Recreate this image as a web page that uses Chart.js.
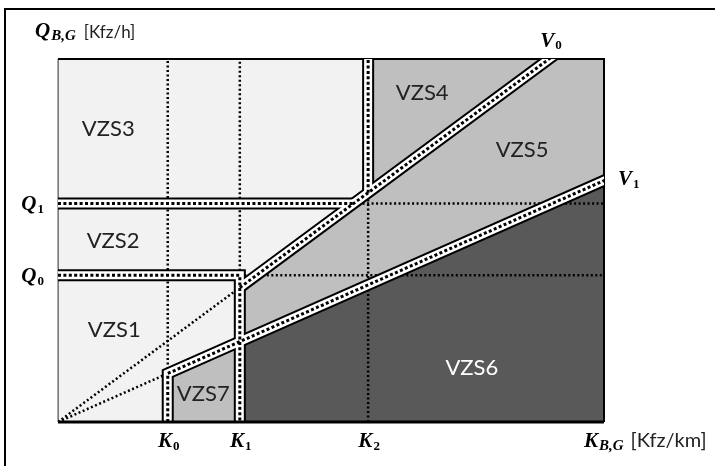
<!DOCTYPE html>
<html>
<head>
<meta charset="utf-8">
<script src="https://cdn.jsdelivr.net/npm/chart.js@4.4.1/dist/chart.umd.min.js"></script>
<style>
html,body{margin:0;padding:0;background:#fff;}
#wrap{width:715px;height:466px;position:relative;}
canvas{display:block;}
</style>
</head>
<body>
<div id="wrap"><canvas id="c" width="715" height="466"></canvas></div>
<script>
// ---- data ----
const densityRange = [0, 100];              // K_B,G axis range
const flowRange = [0, 100];                 // Q_B,G axis range
const densityThresholds = [20.1, 33.3, 56.8];   // K0, K1, K2
const densityTickLabels = ['0', '1', '2'];
const flowThresholds = [40.4, 60.2];            // Q0, Q1
const flowTickLabels = ['0', '1'];
const speedThresholds = [1.112, 0.665];         // V0, V1 (Q/K slopes)
const speedTickLabels = ['0', '1'];
const zoneNames = ['VZS1', 'VZS2', 'VZS3', 'VZS4', 'VZS5', 'VZS6', 'VZS7'];

// ---- label anchors (layout, in axis units) ----
const zoneLabelAt = [[10.3, 25.6], [10.1, 50.1], [9.2, 81.0], [66.7, 90.9], [85.0, 75.2], [75.8, 15.2], [26.6, 8.0]];
const zoneLabelColor = ['#222', '#222', '#222', '#222', '#222', '#fff', '#222'];

// ---- geometry built from the data ----
const [K0, K1, K2] = densityThresholds;
const [Q0, Q1] = flowThresholds;
const [V0, V1] = speedThresholds;
const Kmax = densityRange[1], Qmax = flowRange[1];
const P = (x, y) => ({x, y});
const Kext = Kmax * 1.06, Qext = Qmax * 1.06;

const LIGHT = '#f2f2f2', MID = '#bfbfbf', DARK = '#595959';

function ds(data, o) {
  return Object.assign({
    data, pointRadius: 0, pointHoverRadius: 0, tension: 0, fill: false,
    borderWidth: 0, borderColor: 'rgba(0,0,0,0)', backgroundColor: 'rgba(0,0,0,0)',
    borderCapStyle: 'butt', borderJoinStyle: 'miter'
  }, o);
}
function poly(data, color, order) {
  return ds(data, {fill: 'shape', backgroundColor: color, borderColor: 'rgba(64,64,64,0.9)', borderWidth: 1, order, clip: 0});
}
function band(data) {
  return [
    ds(data, {borderColor: '#000', borderWidth: 12, order: 60, clip: 0}),
    ds(data, {borderColor: '#fff', borderWidth: 8, order: 50, clip: 0}),
    ds(data, {borderColor: '#000', borderWidth: 3, borderDash: [3, 2.4], order: 40, clip: 0})
  ];
}
function dotted(data) {
  return ds(data, {borderColor: '#000', borderWidth: 2.5, borderDash: [2, 2.5], order: 70, clip: 0});
}

const datasets = [
  // regions
  poly([P(0,0), P(0,Qmax), P(Kmax,Qmax), P(Kmax,0), P(0,0)], LIGHT, 100),
  poly([P(K1,V1*K1), P(K1,V0*K1), P(K2,V0*K2), P(K2,Qmax), P(Kmax,Qmax), P(Kmax,V1*Kmax), P(K1,V1*K1)], MID, 90),
  poly([P(K0,0), P(K0,V1*K0), P(K1,V1*K1), P(K1,0), P(K0,0)], MID, 90),
  poly([P(K1,0), P(K1,V1*K1), P(Kmax,V1*Kmax), P(Kmax,0), P(K1,0)], DARK, 90),
  // frame
  ds([P(0,Qmax), P(Kmax,Qmax), P(Kmax,0)], {borderColor: '#000', borderWidth: 2, order: 80, clip: false}),
  ds([P(0,0), P(0,Qmax)], {borderColor: '#555', borderWidth: 1, order: 80, clip: false}),
  // thin dotted reference lines
  dotted([P(K0,V1*K0), P(K0,Qmax)]),
  dotted([P(K1,Q0), P(K1,Qmax)]),
  dotted([P(K2,0), P(K2,V0*K2)]),
  dotted([P(K1,Q0), P(Kmax,Q0)]),
  dotted([P(Q1/V0,Q1), P(Kmax,Q1)]),
  dotted([P(0,0), P(K1,V0*K1)]),
  dotted([P(0,0), P(K0,V1*K0)]),
  // boundary bands
  ...band([P(0,Q1), P(Q1/V0,Q1)]),
  ...band([P(0,Q0), P(K1,Q0), P(K1,0)]),
  ...band([P(K0,0), P(K0,V1*K0), P(Kext,V1*Kext)]),
  ...band([P(K1,V0*K1), P(Qext/V0,Qext)]),
  ...band([P(K2,V0*K2), P(K2,Qmax)]),
  // bottom axis on top
  ds([P(0,0), P(Kmax,0)], {borderColor: '#000', borderWidth: 3, order: 30, clip: false})
];

const SERIF = "'Liberation Serif', 'DejaVu Serif', serif";
const SANS = "Lato, 'Liberation Sans', sans-serif";

function symWidth(ctx, main, sub, mainFont, subFont) {
  ctx.font = mainFont; const a = ctx.measureText(main).width;
  ctx.font = subFont; const b = ctx.measureText(sub).width;
  return [a, b];
}
function drawSym(ctx, main, sub, x, base, align, mainFont, subFont, subDrop) {
  const [a, b] = symWidth(ctx, main, sub, mainFont, subFont);
  const w = a + 1 + b;
  let left = x;
  if (align === 'center') left = x - w / 2;
  else if (align === 'right') left = x - w;
  ctx.textAlign = 'left'; ctx.textBaseline = 'alphabetic';
  ctx.font = mainFont; ctx.fillText(main, left, base);
  ctx.font = subFont; ctx.fillText(sub, left + a + 1, base + subDrop);
  return left + w;
}

const textPlugin = {
  id: 'texts',
  beforeDraw(chart) {
    const ctx = chart.ctx;
    ctx.save();
    ctx.fillStyle = '#fff';
    ctx.fillRect(0, 0, chart.width, chart.height);
    ctx.fillStyle = '#000';
    ctx.fillRect(4, 8, 711, 2);
    ctx.fillRect(4, 8, 2, 458);
    ctx.restore();
  },
  afterDraw(chart) {
    const ctx = chart.ctx;
    const xs = chart.scales.x, ys = chart.scales.y;
    ctx.save();
    ctx.fillStyle = '#000';
    const mainF = "italic bold 21px " + SERIF;
    const subF = "bold 13px " + SERIF;
    // density ticks
    densityThresholds.forEach((k, i) => {
      drawSym(ctx, 'K', densityTickLabels[i], xs.getPixelForValue(k) + 1, 447, 'center', mainF, subF, 3);
    });
    // flow ticks
    flowThresholds.forEach((q, i) => {
      drawSym(ctx, 'Q', flowTickLabels[i], xs.left - 14, ys.getPixelForValue(q) + 7, 'right', mainF, subF, 3);
    });
    // speed labels
    drawSym(ctx, 'V', speedTickLabels[0], xs.getPixelForValue(Qmax / V0) + 2, ys.top - 12, 'center', mainF, subF, 2);
    drawSym(ctx, 'V', speedTickLabels[1], xs.right + 14, ys.getPixelForValue(V1 * Kmax) + 4, 'left', mainF, subF, 3);
    // axis titles
    let e = drawSym(ctx, 'Q', 'B,G', 35, 37, 'left', "italic bold 21px " + SERIF, "italic bold 15px " + SERIF, 3);
    ctx.font = "17px " + SANS; ctx.fillStyle = '#222';
    ctx.fillText('[Kfz/h]', e + 8, 38);
    ctx.fillStyle = '#000';
    e = drawSym(ctx, 'K', 'B,G', 584, 447, 'left', "italic bold 21px " + SERIF, "italic bold 15px " + SERIF, 3);
    ctx.font = "20px " + SANS; ctx.fillStyle = '#222';
    ctx.fillText('[Kfz/km]', e + 7, 447);
    // zone labels
    ctx.font = "22px " + SANS;
    ctx.textAlign = 'center'; ctx.textBaseline = 'middle';
    zoneNames.forEach((n, i) => {
      ctx.fillStyle = zoneLabelColor[i];
      ctx.fillText(n, xs.getPixelForValue(zoneLabelAt[i][0]), ys.getPixelForValue(zoneLabelAt[i][1]) + 1);
    });
    ctx.restore();
  }
};

new Chart(document.getElementById('c'), {
  type: 'line',
  data: {datasets},
  options: {
    responsive: false,
    animation: false,
    events: [],
    layout: {padding: {left: 58, top: 59, right: 111, bottom: 44}},
    scales: {
      x: {type: 'linear', min: densityRange[0], max: densityRange[1], display: false},
      y: {type: 'linear', min: flowRange[0], max: flowRange[1], display: false}
    },
    plugins: {legend: {display: false}, tooltip: {enabled: false}}
  },
  plugins: [textPlugin]
});
</script>
</body>
</html>
